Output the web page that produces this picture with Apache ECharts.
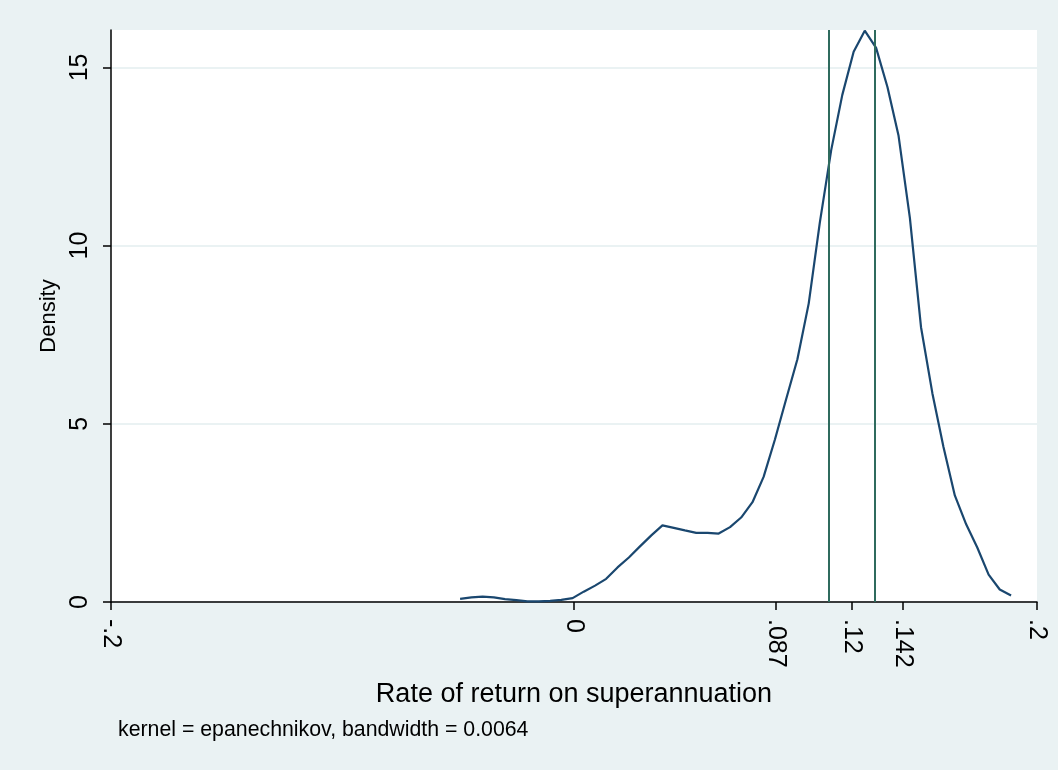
<!DOCTYPE html>
<html>
<head>
<meta charset="utf-8">
<script src="https://cdn.jsdelivr.net/npm/echarts@6/dist/echarts.min.js"></script>
<style>
    html, body { margin: 0; padding: 0; background: #eaf2f3; }
    #main { width: 1058px; height: 770px; }
</style>
</head>
<body>
<div id="main"></div>
<script>
    // kernel density estimate (50 grid points)
    const gridX = [
        -0.0492, -0.0443, -0.0395, -0.0346, -0.0298, -0.0249, -0.0201, -0.0152, -0.0103, -0.0055,
        -0.0006, 0.0042, 0.0091, 0.0139, 0.0188, 0.0237, 0.0285, 0.0334, 0.0382, 0.0431,
        0.0479, 0.0528, 0.0577, 0.0625, 0.0674, 0.0722, 0.0771, 0.0819, 0.0868, 0.0916,
        0.0965, 0.1014, 0.1062, 0.1111, 0.1159, 0.1208, 0.1256, 0.1305, 0.1354, 0.1402,
        0.1451, 0.1499, 0.1548, 0.1596, 0.1645, 0.1694, 0.1742, 0.1791, 0.1839, 0.1888
    ];
    const density = [
        0.09, 0.13, 0.15, 0.13, 0.08, 0.05, 0.02, 0.02, 0.03, 0.06,
        0.11, 0.29, 0.46, 0.65, 0.97, 1.25, 1.56, 1.87, 2.15, 2.08,
        2.01, 1.94, 1.94, 1.92, 2.10, 2.37, 2.80, 3.51, 4.56, 5.68,
        6.81, 8.38, 10.65, 12.68, 14.23, 15.44, 16.03, 15.55, 14.45, 13.08,
        10.77, 7.71, 5.86, 4.35, 2.99, 2.18, 1.53, 0.77, 0.35, 0.18
    ];
    // reference lines
    const refLines = [0.109, 0.130];
    // axis ticks
    const xTickValues = [-0.2, 0, 0.087, 0.12, 0.142, 0.2];
    const xTickLabels = ['-.2', '0', '.087', '.12', '.142', '.2'];
    const yTickValues = [0, 5, 10, 15];

    const font = 'Liberation Sans, Arial, Helvetica, sans-serif';

    function xLabel(v) {
        for (let i = 0; i < xTickValues.length; i++) {
            if (Math.abs(xTickValues[i] - Number(v)) < 1e-6) return xTickLabels[i];
        }
        return '';
    }

    const chart = echarts.init(document.getElementById('main'));
    chart.setOption({
        backgroundColor: '#eaf2f3',
        animation: false,
        textStyle: { fontFamily: font },
        title: {
            text: 'kernel = epanechnikov, bandwidth = 0.0064',
            left: 118,
            top: 720,
            padding: 0,
            textStyle: { fontFamily: font, fontSize: 21.3, fontWeight: 'normal', color: '#000' }
        },
        grid: {
            left: 111,
            right: 21,
            top: 30,
            bottom: 168,
            show: true,
            backgroundColor: '#ffffff',
            borderWidth: 0
        },
        xAxis: {
            type: 'value',
            min: -0.2,
            max: 0.2,
            name: 'Rate of return on superannuation',
            nameLocation: 'middle',
            nameGap: 79,
            nameTextStyle: { fontFamily: font, fontSize: 27, color: '#000' },
            axisLine: { onZero: false, lineStyle: { color: '#000', width: 1.5 } },
            axisTick: { customValues: xTickValues, length: 8, lineStyle: { color: '#000', width: 1.5 } },
            axisLabel: {
                customValues: xTickValues,
                rotate: -90,
                margin: 17,
                fontSize: 25,
                color: '#000',
                formatter: xLabel
            },
            splitLine: { show: false }
        },
        yAxis: {
            type: 'value',
            min: 0,
            max: 16.05,
            interval: 5,
            name: 'Density',
            nameLocation: 'middle',
            nameGap: 48,
            nameTextStyle: { fontFamily: font, fontSize: 22, color: '#000' },
            axisLine: { show: true, onZero: false, lineStyle: { color: '#000', width: 1.5 } },
            axisTick: { show: true, customValues: yTickValues, length: 8, lineStyle: { color: '#000', width: 1.5 } },
            axisLabel: {
                customValues: yTickValues,
                rotate: 90,
                margin: 18,
                fontSize: 25,
                color: '#000'
            },
            splitLine: { show: true, lineStyle: { color: '#eaf2f3', width: 2 } }
        },
        series: [
            {
                type: 'line',
                data: gridX.map((x, i) => [x, density[i]]),
                showSymbol: false,
                smooth: false,
                lineStyle: { color: '#1a476f', width: 2.2 },
                markLine: {
                    silent: true,
                    symbol: ['none', 'none'],
                    label: { show: false },
                    lineStyle: { color: '#2f6b5e', width: 2, type: 'solid' },
                    data: refLines.map(v => ({ xAxis: v }))
                },
                z: 3
            }
        ]
    });
</script>
</body>
</html>
